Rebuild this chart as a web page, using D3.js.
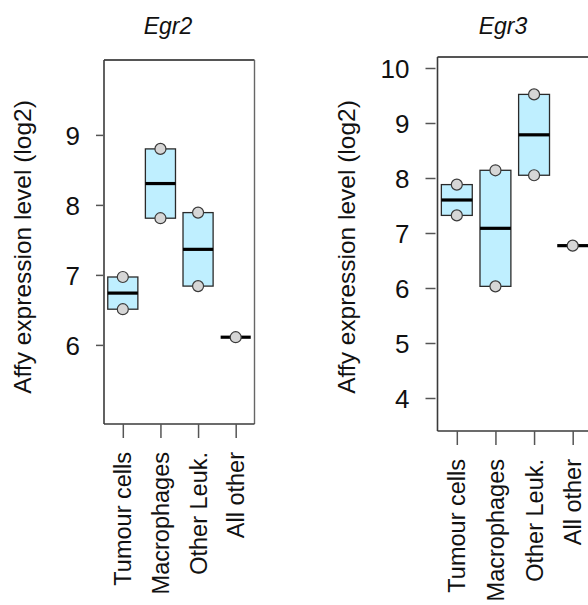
<!DOCTYPE html>
<html>
<head>
<meta charset="utf-8">
<script src="https://cdn.jsdelivr.net/npm/d3@7"></script>
<style>
  html, body { margin: 0; padding: 0; background: #fff; }
  svg { display: block; }
  text { font-family: "Liberation Sans", Arial, Helvetica, sans-serif; fill: #111; }
</style>
</head>
<body>
<svg id="chart" width="588" height="605"></svg>
<script>
// ---- data ----
const categories = ["Tumour cells", "Macrophages", "Other Leuk.", "All other"];
const genes = ["Egr2", "Egr3"];
const egr2Values = [[6.51, 6.97], [7.81, 8.80], [6.84, 7.89], [6.11]];
const egr3Values = [[7.32, 7.88], [6.03, 8.14], [8.05, 9.52], [6.77]];
const egr2Ticks = [6, 7, 8, 9];
const egr3Ticks = [4, 5, 6, 7, 8, 9, 10];
const yTitle = "Affy expression level (log2)";

// ---- layout (per panel) ----
const panels = [
  { gene: genes[0], values: egr2Values, ticks: egr2Ticks,
    x0: 104, x1: 254.5, yTop: 60, yBot: 424, yDom: [4.87, 10.07],
    titleX: 168, yLabX: 31, yTickLen: 7, yTickGap: 1, catTop: 452 },
  { gene: genes[1], values: egr3Values, ticks: egr3Ticks,
    x0: 437.5, x1: 592, yTop: 57, yBot: 431, yDom: [3.4, 10.2],
    titleX: 503, yLabX: 355, yTickLen: 10, yTickGap: 2, catTop: 459 }
];

const svg = d3.select("#chart");
const boxFill = "#bfefff";
const frameCol = "#3a3a3a";

panels.forEach(p => {
  const g = svg.append("g");
  const x = d3.scaleLinear().domain([0.5, categories.length + 0.5]).range([p.x0, p.x1]);
  const y = d3.scaleLinear().domain(p.yDom).range([p.yBot, p.yTop]);
  const unit = x(2) - x(1);
  const bw = unit * 0.8;

  // frame
  g.append("line").attr("x1", p.x0).attr("x2", p.x1).attr("y1", p.yTop).attr("y2", p.yTop)
    .attr("stroke", "#555").attr("stroke-width", 2);
  g.append("line").attr("x1", p.x1).attr("x2", p.x1).attr("y1", p.yTop).attr("y2", p.yBot)
    .attr("stroke", "#666").attr("stroke-width", 1.4);
  g.append("line").attr("x1", p.x0).attr("x2", p.x0).attr("y1", p.yTop).attr("y2", p.yBot)
    .attr("stroke", frameCol).attr("stroke-width", 1.6);
  g.append("line").attr("x1", p.x0).attr("x2", p.x1).attr("y1", p.yBot).attr("y2", p.yBot)
    .attr("stroke", frameCol).attr("stroke-width", 1.6);

  // y axis ticks + labels
  const yAxis = d3.axisLeft(y).tickValues(p.ticks).tickFormat(d3.format("d"))
    .tickSize(p.yTickLen).tickPadding(16);
  const ya = g.append("g").attr("transform", `translate(${p.x0 - p.yTickGap},0)`).call(yAxis);
  ya.attr("font-size", null).attr("font-family", null);
  ya.select(".domain").remove();
  ya.selectAll(".tick line").attr("stroke", "#555").attr("stroke-width", 1.5);
  ya.selectAll(".tick text").attr("font-size", 26).attr("fill", "#111").attr("dy", "0.36em");

  // x axis ticks
  const xAxis = d3.axisBottom(x).tickValues(d3.range(1, categories.length + 1)).tickSize(14).tickFormat("");
  const xa = g.append("g").attr("transform", `translate(0,${p.yBot})`).call(xAxis);
  xa.select(".domain").remove();
  xa.selectAll(".tick line").attr("stroke", "#555").attr("stroke-width", 1.5);

  // category labels (rotated)
  g.selectAll(".cat").data(categories).enter().append("text")
    .attr("class", "cat")
    .attr("transform", (d, i) => `translate(${x(i + 1)},${p.catTop}) rotate(-90)`)
    .attr("text-anchor", "end").attr("dy", "0.36em")
    .attr("font-size", 23.5)
    .text(d => d);

  // y title
  g.append("text")
    .attr("transform", `translate(${p.yLabX},${247}) rotate(-90)`)
    .attr("text-anchor", "middle").attr("font-size", 24.5)
    .text(yTitle);

  // title
  g.append("text").attr("x", p.titleX).attr("y", 34)
    .attr("text-anchor", "middle").attr("font-size", 23).attr("font-style", "italic")
    .text(p.gene);

  // boxes
  p.values.forEach((vals, i) => {
    const cx = x(i + 1);
    const lo = d3.min(vals), hi = d3.max(vals), med = d3.median(vals);
    if (vals.length > 1) {
      g.append("rect").attr("x", cx - bw / 2).attr("width", bw)
        .attr("y", y(hi)).attr("height", y(lo) - y(hi))
        .attr("fill", boxFill).attr("stroke", "#2a2a2a").attr("stroke-width", 1.3);
    }
    g.append("line").attr("x1", cx - bw / 2).attr("x2", cx + bw / 2)
      .attr("y1", y(med)).attr("y2", y(med))
      .attr("stroke", "#000").attr("stroke-width", 3.2);
    vals.forEach(v => {
      g.append("circle").attr("cx", cx).attr("cy", y(v)).attr("r", 5.5)
        .attr("fill", "#d6d6d6").attr("stroke", "#3a3a3a").attr("stroke-width", 1.2);
    });
  });
});
</script>
</body>
</html>
